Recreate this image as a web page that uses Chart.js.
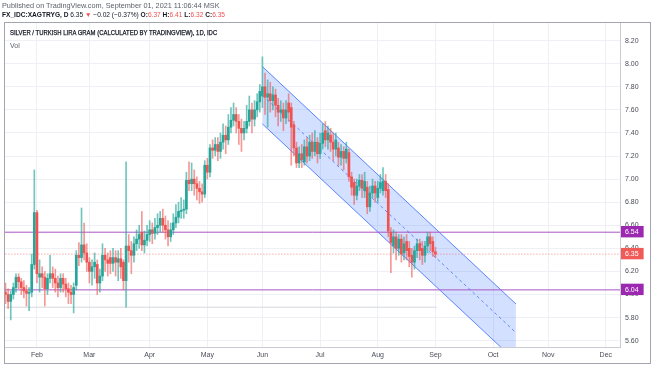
<!DOCTYPE html>
<html>
<head>
<meta charset="utf-8">
<script src="https://cdn.jsdelivr.net/npm/chart.js@4"></script>
<style>
  html, body { margin: 0; padding: 0; background: #fff; }
  #wrap { position: relative; width: 654px; height: 366px; font-family: "Liberation Sans", Arial, sans-serif; }
  canvas { position: absolute; left: 0; top: 0; }
  .t { position: absolute; white-space: nowrap; line-height: 1; }
  .r { color: #ef5350; }
</style>
</head>
<body>
<div id="wrap">
  <canvas id="chart" width="654" height="366"></canvas>
  <div class="t" style="left:2px;top:2px;font-size:7.3px;color:#5d606b">Published on TradingView.com, September 01, 2021 11:06:44 MSK</div>
  <div class="t" style="left:2px;top:12px;font-size:6.6px;color:#131722"><b>FX_IDC:XAGTRYG, D</b> 6.35 <span class="r">▼</span> −0.02 (−0.37%) <b>O:</b><span class="r">6.37</span> <b>H:</b><span class="r">6.41</span> <b>L:</b><span class="r">6.32</span> <b>C:</b><span class="r">6.35</span></div>
  <div class="t" style="left:10px;top:30px;font-size:6.6px;color:#131722;-webkit-text-stroke:0.25px #131722;transform:scaleX(0.9);transform-origin:0 0">SILVER / TURKISH LIRA GRAM (CALCULATED BY TRADINGVIEW), 1D, IDC</div>
  <div class="t" style="left:10px;top:42px;font-size:7px;color:#5d606b">Vol</div>
</div>
<script>
// daily candles, 14 Jan 2021 .. 1 Sep 2021 (one entry per trading day)
const opens = [
  6.02,6.00,5.94,6.00,6.06,6.15,6.11,6.06,6.03,6.01,
  6.02,6.26,6.71,6.15,6.18,6.15,6.05,6.14,6.18,6.14,
  6.10,6.06,6.14,6.09,6.05,6.02,6.00,6.08,6.34,6.32,
  6.43,6.36,6.28,6.20,6.24,6.26,6.10,6.16,6.34,6.30,
  6.32,6.27,6.32,6.28,6.31,6.28,6.12,6.42,6.38,6.34,
  6.44,6.48,6.54,6.43,6.47,6.52,6.56,6.53,6.58,6.60,
  6.66,6.60,6.56,6.50,6.56,6.62,6.67,6.72,6.73,6.74,
  6.99,6.96,7.00,6.96,6.92,6.89,6.87,7.12,7.06,7.27,
  7.25,7.30,7.24,7.32,7.38,7.34,7.45,7.51,7.56,7.50,
  7.44,7.40,7.44,7.50,7.60,7.52,7.60,7.67,7.72,7.80,
  7.71,7.74,7.68,7.73,7.64,7.58,7.60,7.53,7.66,7.62,
  7.47,7.27,7.14,7.22,7.15,7.28,7.20,7.32,7.24,7.32,
  7.22,7.31,7.42,7.34,7.38,7.32,7.26,7.27,7.19,7.24,
  7.18,7.23,7.02,6.97,6.86,6.94,6.99,6.90,6.93,6.76,
  6.88,6.94,6.84,6.92,6.90,6.98,6.91,6.54,6.42,6.50,
  6.40,6.48,6.36,6.46,6.40,6.34,6.28,6.38,6.44,6.40,
  6.34,6.42,6.50,6.46,6.37
];
const highs = [
  6.10,6.05,6.03,6.10,6.18,6.18,6.14,6.12,6.08,6.06,
  6.35,7.08,6.73,6.30,6.24,6.20,6.18,6.34,6.24,6.22,
  6.16,6.18,6.18,6.14,6.10,6.08,6.10,6.38,6.45,6.75,
  6.62,6.44,6.32,6.30,6.36,6.30,6.22,6.44,6.40,6.36,
  6.38,6.40,6.38,6.38,6.40,6.30,7.15,6.52,6.46,6.50,
  6.56,6.60,6.72,6.55,6.60,6.64,6.62,6.66,6.70,6.72,
  6.74,6.68,6.64,6.62,6.70,6.78,6.80,6.84,6.82,7.06,
  7.15,7.14,7.08,7.02,6.98,6.96,7.16,7.18,7.30,7.34,
  7.36,7.36,7.40,7.48,7.46,7.56,7.62,7.66,7.62,7.56,
  7.52,7.50,7.64,7.72,7.66,7.68,7.74,7.82,8.06,7.92,
  7.86,7.84,7.80,7.78,7.70,7.68,7.66,7.68,7.74,7.66,
  7.50,7.32,7.28,7.30,7.34,7.36,7.38,7.40,7.42,7.36,
  7.40,7.48,7.50,7.46,7.44,7.40,7.40,7.32,7.30,7.28,
  7.32,7.26,7.06,7.00,7.00,7.04,7.04,7.06,6.98,6.94,
  7.00,6.98,6.98,7.04,7.10,7.04,6.96,6.58,6.56,6.54,
  6.52,6.52,6.50,6.52,6.46,6.40,6.42,6.48,6.48,6.46,
  6.46,6.54,6.54,6.50,6.41
];
const lows = [
  5.92,5.88,5.78,5.96,6.02,6.05,6.00,5.97,5.90,5.86,
  5.98,6.22,6.10,6.02,6.06,5.90,6.00,6.10,6.06,6.02,
  5.98,6.02,6.02,5.98,5.92,5.92,5.84,6.04,6.25,6.28,
  6.30,6.20,6.10,6.08,6.14,6.00,6.02,6.12,6.20,6.16,
  6.18,6.20,6.16,6.12,6.14,6.04,5.89,6.28,6.18,6.28,
  6.38,6.40,6.38,6.36,6.42,6.46,6.44,6.48,6.52,6.54,
  6.54,6.48,6.42,6.46,6.52,6.58,6.62,6.66,6.66,6.70,
  6.90,6.90,6.86,6.82,6.79,6.80,6.84,7.00,7.02,7.18,
  7.20,7.16,7.18,7.26,7.22,7.30,7.40,7.46,7.40,7.30,
  7.24,7.34,7.40,7.46,7.40,7.46,7.54,7.58,7.62,7.56,
  7.45,7.58,7.60,7.54,7.46,7.50,7.42,7.48,7.50,7.12,
  7.20,7.10,7.10,7.10,7.12,7.14,7.16,7.18,7.20,7.14,
  7.18,7.26,7.28,7.26,7.24,7.16,7.20,7.12,7.12,7.08,
  7.14,6.98,6.86,6.78,6.82,6.90,6.84,6.84,6.70,6.72,
  6.84,6.80,6.80,6.88,6.86,6.84,6.50,6.19,6.36,6.30,
  6.34,6.28,6.30,6.30,6.24,6.15,6.22,6.32,6.30,6.26,
  6.28,6.36,6.38,6.33,6.32
];
const closes = [
  6.00,5.94,6.00,6.06,6.15,6.11,6.06,6.03,6.01,6.02,
  6.26,6.71,6.18,6.18,6.15,6.05,6.14,6.18,6.14,6.10,
  6.06,6.14,6.09,6.05,6.02,6.00,6.06,6.34,6.32,6.43,
  6.36,6.28,6.20,6.24,6.28,6.10,6.16,6.34,6.30,6.27,
  6.27,6.32,6.28,6.31,6.24,6.12,6.42,6.38,6.34,6.44,
  6.48,6.52,6.43,6.47,6.52,6.56,6.53,6.58,6.60,6.66,
  6.60,6.56,6.50,6.56,6.62,6.67,6.72,6.73,6.74,6.99,
  6.96,7.00,6.96,6.92,6.89,6.87,7.12,7.06,7.27,7.25,
  7.30,7.24,7.32,7.38,7.34,7.45,7.51,7.56,7.50,7.44,
  7.40,7.44,7.50,7.60,7.52,7.60,7.67,7.76,7.80,7.71,
  7.74,7.68,7.73,7.64,7.58,7.60,7.53,7.60,7.58,7.45,
  7.27,7.14,7.22,7.17,7.28,7.20,7.32,7.24,7.32,7.22,
  7.31,7.40,7.34,7.40,7.32,7.26,7.34,7.19,7.24,7.18,
  7.26,7.02,6.93,6.86,6.94,6.99,6.92,6.98,6.76,6.88,
  6.94,6.88,6.92,6.97,6.98,6.90,6.55,6.45,6.50,6.40,
  6.48,6.35,6.44,6.38,6.33,6.28,6.38,6.44,6.38,6.34,
  6.42,6.50,6.44,6.37,6.35
];

// time axis: month label and the bar index where that month starts
const monthLabels = ["Feb", "Mar", "Apr", "May", "Jun", "Jul", "Aug", "Sep", "Oct", "Nov", "Dec"];
const monthBars = [12, 32, 55, 77, 98, 120, 142, 164, 186, 207, 229];
const priceTicks = [5.6, 5.8, 6.0, 6.2, 6.4, 6.6, 6.8, 7.0, 7.2, 7.4, 7.6, 7.8, 8.0, 8.2];

// drawings on the chart
const levels = [6.54, 6.04];
const channelBars = [98, 194.7];
const channelUpper = [7.975, 5.918];
const channelLower = [7.478, 5.421];
const volLine = 5.89;

const lastPrice = closes[closes.length - 1];
const markers = [levels[0], lastPrice, levels[1]];
const markerColors = ["#9c27b0", "#f05b58", "#9c27b0"];

const UP = "#26a69a", DOWN = "#ef5350";
const FONT = "'Liberation Sans', Arial, sans-serif";
const xMin = -0.19, xMax = 234.4;

const isUp = i => closes[i] >= opens[i];
const idx = closes.map((_, i) => i);
const seg = (xs, ys) => xs.map((x, k) => ({ x, y: ys[k] }));
const flat = (y, x0, x1) => [{ x: x0, y }, { x: x1, y }];

const frame = {
  id: "frame",
  afterDraw(chart) {
    const c = chart.ctx;
    c.save();
    c.strokeStyle = "#a3a6af";
    c.lineWidth = 1;
    c.strokeRect(4.5, 22.5, 646, 341);
    c.restore();
  }
};

new Chart(document.getElementById("chart"), {
  type: "bar",
  data: {
    datasets: [
      {
        type: "bar", label: "bodies", order: 0, grouped: false,
        data: idx.map(i => ({ x: i, y: [opens[i], closes[i]] })),
        backgroundColor: ctx => isUp(ctx.dataIndex) ? UP : DOWN,
        barThickness: 2, minBarLength: 1, borderWidth: 0
      },
      {
        type: "bar", label: "wicks", order: 1, grouped: false,
        data: idx.map(i => ({ x: i, y: [lows[i], highs[i]] })),
        backgroundColor: ctx => isUp(ctx.dataIndex) ? "rgba(38,166,154,0.65)" : "rgba(239,83,80,0.6)",
        barThickness: 1, borderWidth: 0
      },
      {
        type: "line", label: "6.54", order: 3,
        data: flat(levels[0], xMin - 1, xMax + 1),
        borderColor: "#a855c4", borderWidth: 1, pointRadius: 0
      },
      {
        type: "line", label: "6.04", order: 3,
        data: flat(levels[1], xMin - 1, xMax + 1),
        borderColor: "#a855c4", borderWidth: 1, pointRadius: 0
      },
      {
        type: "line", label: "last", order: 4,
        data: flat(lastPrice, xMin - 1, xMax + 1),
        borderColor: "rgba(239,83,80,0.7)", borderWidth: 1, borderDash: [1, 2], pointRadius: 0
      },
      {
        type: "line", label: "vol", order: 5,
        data: flat(volLine, xMin - 1, closes.length - 0.5),
        borderColor: "#d5d7dc", borderWidth: 1, pointRadius: 0
      },
      {
        type: "line", label: "upper", order: 6,
        data: seg(channelBars, channelUpper),
        borderColor: "rgba(41,98,255,0.75)", borderWidth: 1, pointRadius: 0, fill: false
      },
      {
        type: "line", label: "lower", order: 7,
        data: seg(channelBars, channelLower),
        borderColor: "rgba(41,98,255,0.75)", borderWidth: 1, pointRadius: 0,
        fill: "-1", backgroundColor: "rgba(41,98,255,0.2)"
      },
      {
        type: "line", label: "middle", order: 2,
        data: seg(channelBars, channelUpper.map((u, k) => (u + channelLower[k]) / 2)),
        borderColor: "rgba(41,98,255,0.7)", borderWidth: 1, borderDash: [3, 3], pointRadius: 0
      }
    ]
  },
  options: {
    responsive: false,
    animation: false,
    layout: { padding: { left: 5, top: 23, right: 0, bottom: 3 } },
    plugins: {
      legend: { display: false },
      tooltip: { enabled: false }
    },
    scales: {
      x: {
        type: "linear", min: xMin, max: xMax, offset: false,
        afterBuildTicks: s => { s.ticks = monthBars.map(v => ({ value: v })); },
        afterFit: s => { s.height = 16; },
        ticks: {
          autoSkip: false, maxRotation: 0, padding: 4, color: "#4a4d57",
          font: { size: 7, family: FONT },
          callback: (v, i) => monthLabels[i]
        },
        grid: { color: "#eef0f5", drawTicks: false, offset: false },
        border: { color: "#c9ccd3" }
      },
      y: {
        position: "right", min: 5.545, max: 8.353,
        afterBuildTicks: s => {
          s.ticks = priceTicks.map(v => ({ value: v })).concat(markers.map(v => ({ value: v })));
        },
        afterFit: s => { s.width = 34; },
        ticks: {
          autoSkip: false, padding: 5,
          font: { size: 7, family: FONT },
          color: ctx => markers.includes(ctx.tick.value) ? "#ffffff" : "#4a4d57",
          showLabelBackdrop: ctx => markers.includes(ctx.tick.value),
          backdropColor: ctx => markerColors[markers.indexOf(ctx.tick.value)] || "transparent",
          backdropPadding: { left: 4, right: 5, top: 2, bottom: 1 },
          callback: v => v.toFixed(2)
        },
        grid: {
          color: ctx => ctx.tick && markers.includes(ctx.tick.value) ? "transparent" : "#eef0f5",
          drawTicks: false
        },
        border: { color: "#c9ccd3" }
      }
    }
  },
  plugins: [frame]
});
</script>
</body>
</html>
